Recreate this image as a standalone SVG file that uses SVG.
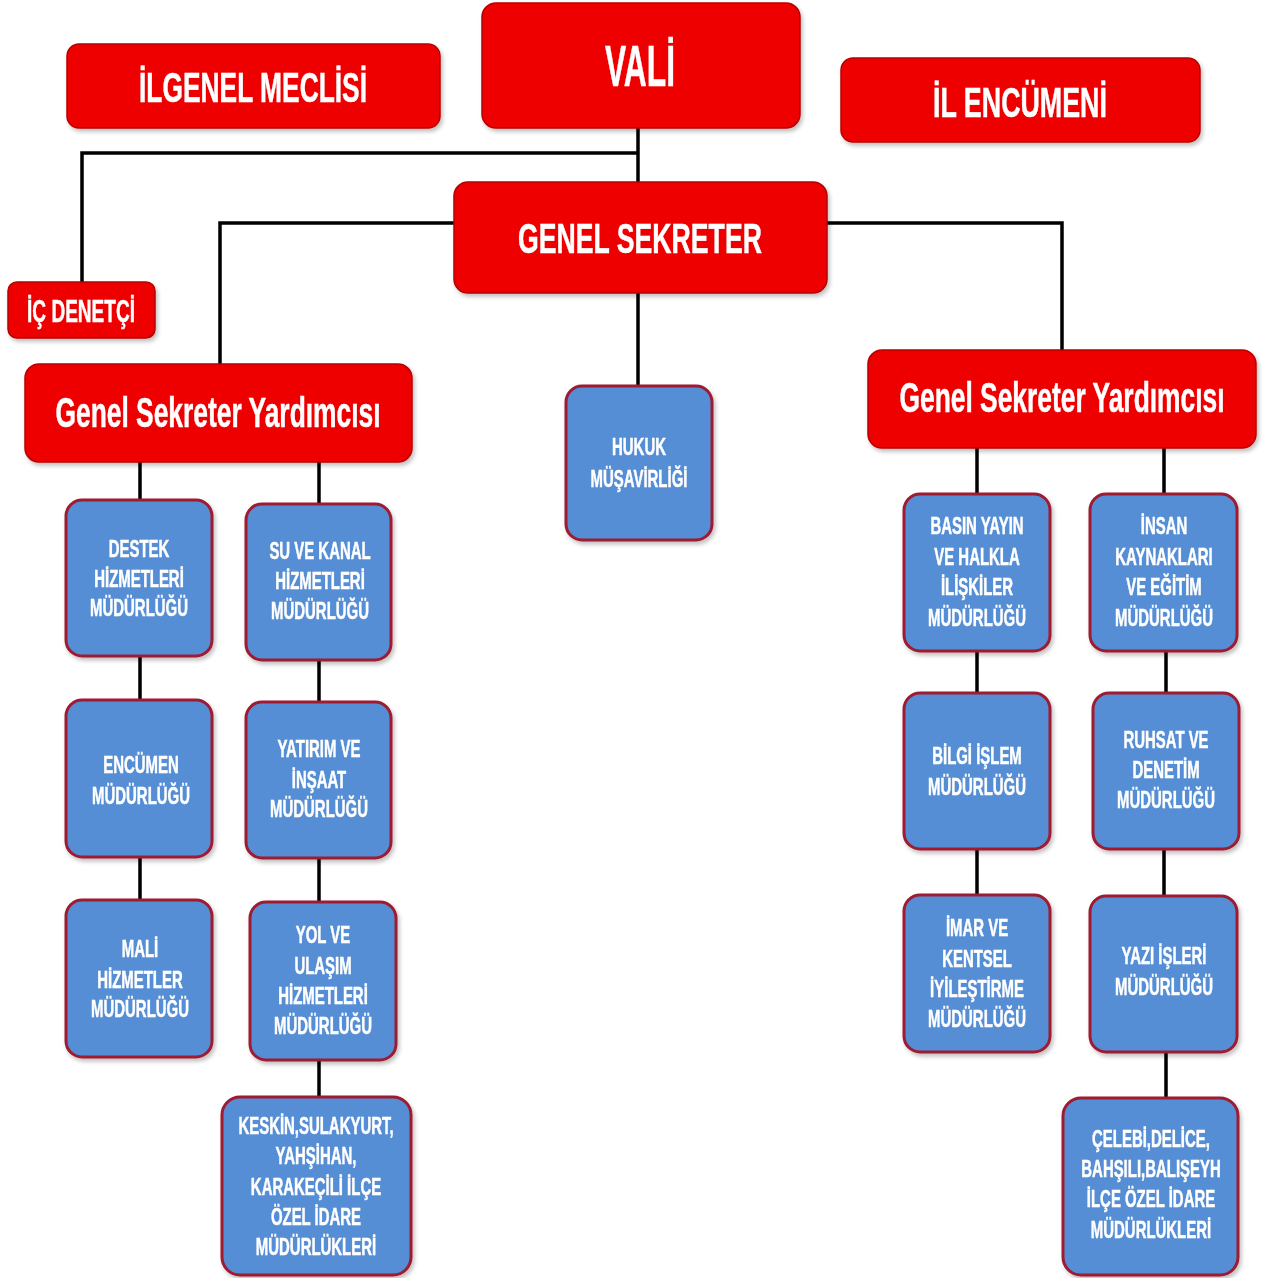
<svg xmlns="http://www.w3.org/2000/svg" width="1270" height="1278" viewBox="0 0 1270 1278">
<style>
.red{fill:#EE0000;stroke:#B80000;stroke-width:1.5}
.blue{fill:#558ED5;stroke:#9E1B32;stroke-width:3}
.t{font-family:"Liberation Sans",Arial,sans-serif;font-weight:bold;fill:#FFFFFF;stroke:#FFFFFF;stroke-width:0.5;text-anchor:middle}
.bt{font-size:23px}
.c{stroke:#000;stroke-width:3.5;fill:none}
</style>
<defs>
<filter id="sh" x="-10%" y="-10%" width="125%" height="125%">
<feGaussianBlur in="SourceAlpha" stdDeviation="2"/>
<feOffset dx="2" dy="3"/>
<feComponentTransfer><feFuncA type="linear" slope="0.25"/></feComponentTransfer>
<feMerge><feMergeNode/><feMergeNode in="SourceGraphic"/></feMerge>
</filter>
</defs>
<rect width="1270" height="1278" fill="#FFFFFF"/>
<g id="connectors">
<path class="c" d="M638,128 V183"/>
<path class="c" d="M638,153 H82 V283"/>
<path class="c" d="M454,223 H220 V365"/>
<path class="c" d="M827,223 H1062 V350"/>
<path class="c" d="M638,293 V387"/>
<path class="c" d="M140,462 V500 M140,656 V700 M140,857 V900"/>
<path class="c" d="M319,462 V504 M319,660 V702 M319,858 V902 M319,1060 V1097"/>
<path class="c" d="M977,448 V494 M977,651 V693 M977,849 V895"/>
<path class="c" d="M1164,448 V494 M1166,651 V693 M1164,849 V896 M1166,1052 V1098"/>
</g>
<g id="vali" filter="url(#sh)">
<rect class="red" x="482" y="3" width="318" height="125" rx="14"/>
<g transform="translate(640,0) scale(0.53,1)"><text class="t" x="0" y="86" font-size="58" textLength="132" lengthAdjust="spacingAndGlyphs">VALİ</text></g>
</g>
<g id="il-genel-meclisi" filter="url(#sh)">
<rect class="red" x="67" y="44" width="373" height="84" rx="12"/>
<g transform="translate(253,0) scale(0.63,1)"><text class="t" x="0" y="102" font-size="42" textLength="362" lengthAdjust="spacingAndGlyphs">İLGENEL MECLİSİ</text></g>
</g>
<g id="il-encumeni" filter="url(#sh)">
<rect class="red" x="841" y="58" width="359" height="84" rx="12"/>
<g transform="translate(1020,0) scale(0.63,1)"><text class="t" x="0" y="117" font-size="42" textLength="276" lengthAdjust="spacingAndGlyphs">İL ENCÜMENİ</text></g>
</g>
<g id="ic-denetci" filter="url(#sh)">
<rect class="red" x="8" y="282" width="147" height="56" rx="9"/>
<g transform="translate(81,0) scale(0.62,1)"><text class="t" x="0" y="322" font-size="31" textLength="174" lengthAdjust="spacingAndGlyphs">İÇ DENETÇİ</text></g>
</g>
<g id="genel-sekreter" filter="url(#sh)">
<rect class="red" x="454" y="182" width="373" height="111" rx="14"/>
<g transform="translate(640,0) scale(0.63,1)"><text class="t" x="0" y="253" font-size="42" textLength="387" lengthAdjust="spacingAndGlyphs">GENEL SEKRETER</text></g>
</g>
<g id="gsy-left" filter="url(#sh)">
<rect class="red" x="25" y="364" width="387" height="98" rx="14"/>
<g transform="translate(218,0) scale(0.61,1)"><text class="t" x="0" y="427" font-size="43" textLength="533" lengthAdjust="spacingAndGlyphs">Genel Sekreter Yardımcısı</text></g>
</g>
<g id="gsy-right" filter="url(#sh)">
<rect class="red" x="868" y="350" width="388" height="98" rx="14"/>
<g transform="translate(1062,0) scale(0.61,1)"><text class="t" x="0" y="412" font-size="43" textLength="533" lengthAdjust="spacingAndGlyphs">Genel Sekreter Yardımcısı</text></g>
</g>
<g id="hukuk" filter="url(#sh)">
<rect class="blue" x="566" y="386" width="146" height="154" rx="16"/>
<g transform="translate(639,0) scale(0.65,1)"><text class="t bt"><tspan x="0" y="455">HUKUK</tspan><tspan x="0" y="487">MÜŞAVİRLİĞİ</tspan></text></g>
</g>
<g id="destek" filter="url(#sh)">
<rect class="blue" x="66" y="500" width="146" height="156" rx="16"/>
<g transform="translate(139,0) scale(0.65,1)"><text class="t bt"><tspan x="0" y="557">DESTEK</tspan><tspan x="0" y="587">HİZMETLERİ</tspan><tspan x="0" y="616">MÜDÜRLÜĞÜ</tspan></text></g>
</g>
<g id="encumen" filter="url(#sh)">
<rect class="blue" x="66" y="700" width="146" height="157" rx="16"/>
<g transform="translate(141,0) scale(0.65,1)"><text class="t bt"><tspan x="0" y="773">ENCÜMEN</tspan><tspan x="0" y="804">MÜDÜRLÜĞÜ</tspan></text></g>
</g>
<g id="mali" filter="url(#sh)">
<rect class="blue" x="66" y="900" width="146" height="157" rx="16"/>
<g transform="translate(140,0) scale(0.65,1)"><text class="t bt"><tspan x="0" y="957">MALİ</tspan><tspan x="0" y="988">HİZMETLER</tspan><tspan x="0" y="1017">MÜDÜRLÜĞÜ</tspan></text></g>
</g>
<g id="su-kanal" filter="url(#sh)">
<rect class="blue" x="246" y="504" width="145" height="156" rx="16"/>
<g transform="translate(320,0) scale(0.65,1)"><text class="t bt"><tspan x="0" y="559">SU VE KANAL</tspan><tspan x="0" y="589">HİZMETLERİ</tspan><tspan x="0" y="619">MÜDÜRLÜĞÜ</tspan></text></g>
</g>
<g id="yatirim" filter="url(#sh)">
<rect class="blue" x="246" y="702" width="145" height="156" rx="16"/>
<g transform="translate(319,0) scale(0.65,1)"><text class="t bt"><tspan x="0" y="757">YATIRIM VE</tspan><tspan x="0" y="788">İNŞAAT</tspan><tspan x="0" y="817">MÜDÜRLÜĞÜ</tspan></text></g>
</g>
<g id="yol" filter="url(#sh)">
<rect class="blue" x="250" y="902" width="146" height="158" rx="16"/>
<g transform="translate(323,0) scale(0.65,1)"><text class="t bt"><tspan x="0" y="943">YOL VE</tspan><tspan x="0" y="974">ULAŞIM</tspan><tspan x="0" y="1004">HİZMETLERİ</tspan><tspan x="0" y="1034">MÜDÜRLÜĞÜ</tspan></text></g>
</g>
<g id="keskin" filter="url(#sh)">
<rect class="blue" x="222" y="1097" width="189" height="178" rx="18"/>
<g transform="translate(316,0) scale(0.65,1)"><text class="t bt"><tspan x="0" y="1134">KESKİN,SULAKYURT,</tspan><tspan x="0" y="1164">YAHŞİHAN,</tspan><tspan x="0" y="1195">KARAKEÇİLİ  İLÇE</tspan><tspan x="0" y="1225">ÖZEL İDARE</tspan><tspan x="0" y="1255">MÜDÜRLÜKLERİ</tspan></text></g>
</g>
<g id="basin" filter="url(#sh)">
<rect class="blue" x="904" y="494" width="146" height="157" rx="16"/>
<g transform="translate(977,0) scale(0.65,1)"><text class="t bt"><tspan x="0" y="534">BASIN YAYIN</tspan><tspan x="0" y="565">VE HALKLA</tspan><tspan x="0" y="595">İLİŞKİLER</tspan><tspan x="0" y="626">MÜDÜRLÜĞÜ</tspan></text></g>
</g>
<g id="bilgi" filter="url(#sh)">
<rect class="blue" x="904" y="693" width="146" height="156" rx="16"/>
<g transform="translate(977,0) scale(0.65,1)"><text class="t bt"><tspan x="0" y="764">BİLGİ İŞLEM</tspan><tspan x="0" y="795">MÜDÜRLÜĞÜ</tspan></text></g>
</g>
<g id="imar" filter="url(#sh)">
<rect class="blue" x="904" y="895" width="146" height="157" rx="16"/>
<g transform="translate(977,0) scale(0.65,1)"><text class="t bt"><tspan x="0" y="936">İMAR VE</tspan><tspan x="0" y="967">KENTSEL</tspan><tspan x="0" y="997">İYİLEŞTİRME</tspan><tspan x="0" y="1027">MÜDÜRLÜĞÜ</tspan></text></g>
</g>
<g id="insan" filter="url(#sh)">
<rect class="blue" x="1090" y="494" width="147" height="157" rx="16"/>
<g transform="translate(1164,0) scale(0.65,1)"><text class="t bt"><tspan x="0" y="534">İNSAN</tspan><tspan x="0" y="565">KAYNAKLARI</tspan><tspan x="0" y="595">VE EĞİTİM</tspan><tspan x="0" y="626">MÜDÜRLÜĞÜ</tspan></text></g>
</g>
<g id="ruhsat" filter="url(#sh)">
<rect class="blue" x="1093" y="693" width="146" height="156" rx="16"/>
<g transform="translate(1166,0) scale(0.65,1)"><text class="t bt"><tspan x="0" y="748">RUHSAT VE</tspan><tspan x="0" y="778">DENETİM</tspan><tspan x="0" y="808">MÜDÜRLÜĞÜ</tspan></text></g>
</g>
<g id="yazi" filter="url(#sh)">
<rect class="blue" x="1090" y="896" width="147" height="156" rx="16"/>
<g transform="translate(1164,0) scale(0.65,1)"><text class="t bt"><tspan x="0" y="964">YAZI İŞLERİ</tspan><tspan x="0" y="995">MÜDÜRLÜĞÜ</tspan></text></g>
</g>
<g id="celebi" filter="url(#sh)">
<rect class="blue" x="1063" y="1098" width="175" height="177" rx="18"/>
<g transform="translate(1151,0) scale(0.65,1)"><text class="t bt"><tspan x="0" y="1147">ÇELEBİ,DELİCE,</tspan><tspan x="0" y="1177">BAHŞILI,BALIŞEYH</tspan><tspan x="0" y="1207">İLÇE ÖZEL İDARE</tspan><tspan x="0" y="1238">MÜDÜRLÜKLERİ</tspan></text></g>
</g>
</svg>
